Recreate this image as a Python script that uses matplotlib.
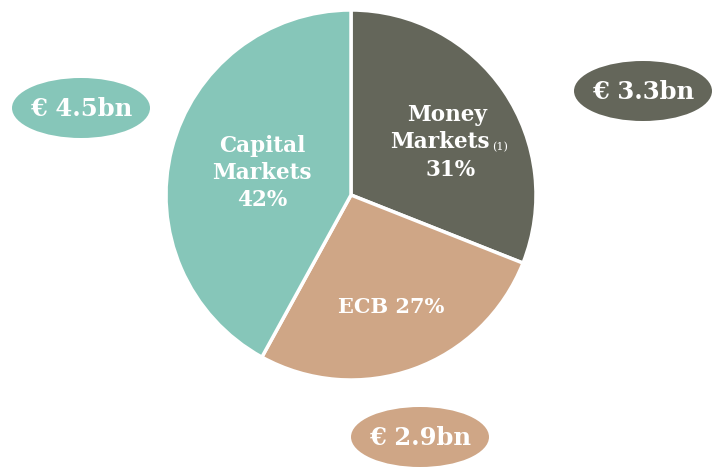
import matplotlib
matplotlib.use("Agg")
import matplotlib.pyplot as plt
from matplotlib.patches import Ellipse

# Funding sources
categories = ["Money Markets", "ECB", "Capital Markets"]
shares = [31, 27, 42]
amounts = ["€ 3.3bn", "€ 2.9bn", "€ 4.5bn"]
colors = ["#64665A", "#CFA686", "#86C6B9"]

W, H = 713, 469
fig = plt.figure(figsize=(W / 100, H / 100), dpi=100)
ax = fig.add_axes([0, 0, 1, 1])


def Y(y):
    """Convert a top-down pixel row into the axes' upward y coordinate."""
    return H - y


cx, cy, r = 351, 195, 185
ax.pie(shares, colors=colors, startangle=90, counterclock=False,
       center=(cx, Y(cy)), radius=r,
       wedgeprops=dict(edgecolor="white", linewidth=2.5))

ax.set_xlim(0, W)
ax.set_ylim(0, H)
ax.set_aspect("equal")
ax.axis("off")

font = dict(family="DejaVu Serif", weight="bold", color="white")

# Slice labels
for i, line in enumerate(["Capital", "Markets", f"{shares[2]}%"]):
    ax.text(262, Y(146 + 27 * i), line, ha="center", va="center",
            fontsize=15.5, **font)
ax.text(447, Y(115), "Money", ha="center", va="center", fontsize=15.5, **font)
ax.text(490, Y(142), "Markets", ha="right", va="center", fontsize=15.5, **font)
ax.text(492, Y(147), "(1)", ha="left", va="center", fontsize=8,
        family="DejaVu Serif", color="white")
ax.text(451, Y(170), f"{shares[0]}%", ha="center", va="center", fontsize=15.5, **font)
ax.text(391, Y(307), f"ECB {shares[1]}%", ha="center", va="center", fontsize=15, **font)

# Amount bubbles
bubbles = [((643, 91), amounts[0], colors[0]),
           ((420, 437), amounts[1], colors[1]),
           ((81, 108), amounts[2], colors[2])]
for (x, y), txt, col in bubbles:
    ax.add_patch(Ellipse((x, Y(y)), 138, 60, facecolor=col, edgecolor="none"))
    ax.text(x, Y(y) - 1, txt, ha="center", va="center", fontsize=17.5, **font)

fig.savefig("out.png", dpi=100)
